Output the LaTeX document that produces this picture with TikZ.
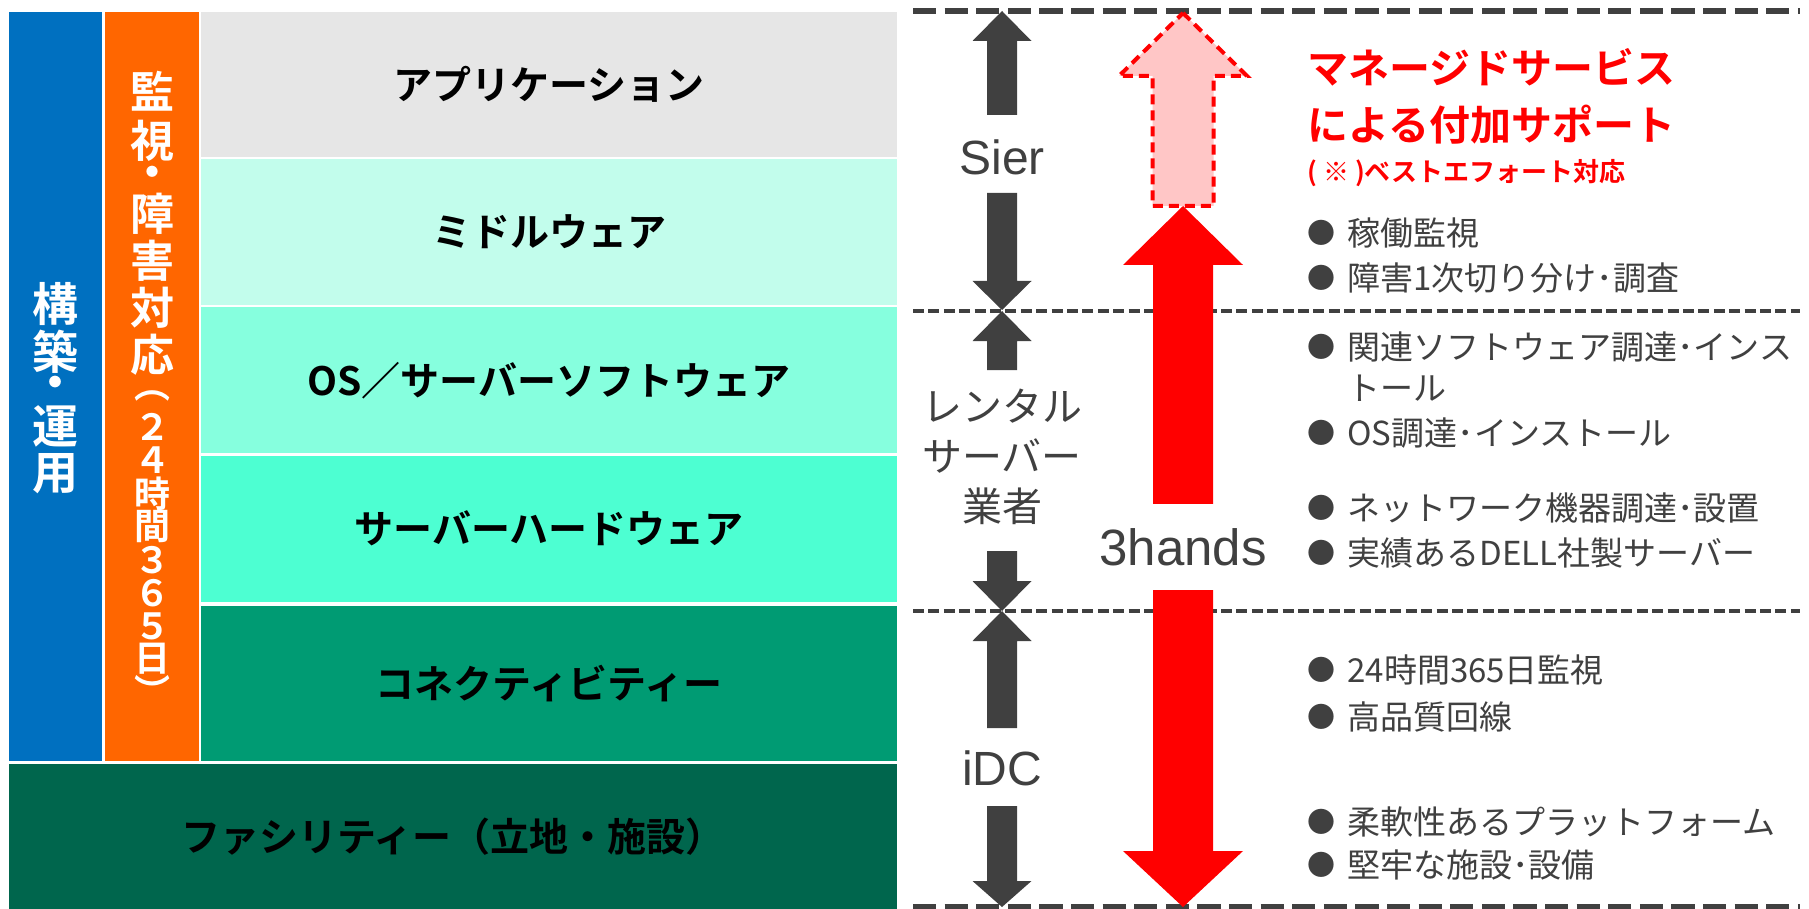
\documentclass[tikz,border=0pt]{standalone}
\usepackage{fontspec}
\setmainfont{Noto Sans CJK JP}[BoldFont={Noto Sans CJK JP Bold}]
\newfontfamily\arialf{Liberation Sans}
\definecolor{dg}{HTML}{404040}
\definecolor{bluec}{HTML}{0070C0}
\definecolor{orangec}{HTML}{FF6600}
\definecolor{appc}{HTML}{E6E6E6}
\definecolor{midc}{HTML}{C2FDEC}
\definecolor{osc}{HTML}{86FFDE}
\definecolor{hwc}{HTML}{4DFFD2}
\definecolor{connc}{HTML}{009B73}
\definecolor{facc}{HTML}{00664D}
\definecolor{pinkc}{HTML}{FFC6C6}
\newcommand\blkarrow[7]{% color, x, tip y, base y, end y, head half, shaft half
  \fill[#1] (#2,#3) -- ({#2+#6},#4) -- ({#2+#7},#4) -- ({#2+#7},#5) -- ({#2-#7},#5) -- ({#2-#7},#4) -- ({#2-#6},#4) -- cycle;}
% one vertically centred glyph per line: its centre sits on the baseline
\newcommand\cl[1]{\setbox0=\hbox{#1}\hbox to 24pt{\hss\raise\dimexpr(\dp0-\ht0)/2\relax\box0\hss}}
\newcommand\vsetup{\baselineskip=0pt\lineskip=0pt\lineskiplimit=-\maxdimen}
\newcommand\smf{\fontsize{18pt}{18pt}\selectfont}
\begin{document}
\begin{tikzpicture}[x=0.5pt,y=-0.5pt,
  box/.style={draw=white, line width=1.25pt, inner sep=0pt, text=black,
    font=\fontsize{19.5pt}{23pt}\selectfont\bfseries},
  vtext/.style={anchor=base, inner sep=0pt, text=white},
  glabel/.style={inner sep=0pt, text=dg, font=\arialf\fontsize{24pt}{24pt}\selectfont},
  redbig/.style={anchor=west, inner sep=0pt, text=red, text height=16.4pt, text depth=1pt,
    font=\fontsize{20.5pt}{24pt}\selectfont\bfseries},
  redsmall/.style={anchor=west, inner sep=0pt, text=red, text height=10.4pt, text depth=0.6pt,
    font=\fontsize{13pt}{15pt}\selectfont\bfseries},
  bul/.style={anchor=west, inner sep=0pt, text=dg, text height=13.2pt, text depth=0.85pt,
    font=\fontsize{16.5pt}{20pt}\selectfont},
  sepbig/.style={dg, line width=3.3pt, dash pattern=on 11.6pt off 4.2pt},
  sepsmall/.style={dg, line width=2pt, dash pattern=on 5.5pt off 2.2pt}
]
\useasboundingbox (0,0) rectangle (1809,909);
\fill[white] (0,0) rectangle (1809,909);
\newcommand\bu{\raisebox{1pt}{\fontsize{14pt}{14pt}\selectfont ●}\hspace{6pt}}

% left stack
\node[box, fill=bluec, minimum width=47.75pt, minimum height=375.75pt] (blue) at (55.75,386.75) {};
\node[box, fill=orangec, minimum width=48.25pt, minimum height=375.75pt] (orange) at (151.75,386.75) {};
\node[box, fill=appc, minimum width=349pt, minimum height=73.5pt] (app) at (549,84.5) {アプリケーション};
\node[box, fill=midc, minimum width=349pt, minimum height=74pt] (mid) at (549,232) {ミドルウェア};
\node[box, fill=osc, minimum width=349pt, minimum height=74.25pt] (os) at (549,380.25) {OS／サーバーソフトウェア};
\node[box, fill=hwc, minimum width=349pt, minimum height=74.25pt] (hw) at (549,528.75) {サーバーハードウェア};
\node[box, fill=connc, minimum width=349pt, minimum height=79.75pt] (conn) at (549,684) {コネクティビティー};
\node[box, fill=facc, minimum width=445pt, minimum height=73.75pt] (fac) at (453,836.25) {ファシリティー（立地・施設）};

\node[vtext, font=\fontsize{23pt}{23pt}\selectfont\bfseries] (bluetext) at (55.5,304)
  {\vtop{\vsetup\cl{構}\vskip24pt\cl{築}\vskip18pt\cl{・}\vskip19pt\cl{運}\vskip24pt\cl{用}}};
\node[vtext, font=\fontsize{22pt}{22pt}\selectfont\bfseries] (orangetext) at (152,91)
  {\vtop{\vsetup\cl{監}\vskip25pt\cl{視}\vskip18pt\cl{・}\vskip18.5pt\cl{障}\vskip23.5pt\cl{害}%
   \vskip23.5pt\cl{対}\vskip23.5pt\cl{応}\vskip20.5pt\cl{\smf ︵}\vskip15.5pt\cl{\smf ２}%
   \vskip16.5pt\cl{\smf ４}\vskip17pt\cl{\smf 時}\vskip16.5pt\cl{\smf 間}\vskip16.5pt\cl{\smf ３}%
   \vskip16.5pt\cl{\smf ６}\vskip16.5pt\cl{\smf ５}\vskip16.5pt\cl{\smf 日}\vskip15.5pt\cl{\smf ︶}}};

% separators
\draw[sepbig] (913,11) -- (1800,11);
\draw[sepsmall] (913,310.5) -- (1800,310.5);
\draw[sepsmall] (913,610.5) -- (1800,610.5);
\draw[sepbig] (913,907) -- (1800,907);

% gray arrows
\blkarrow{dg}{1002}{11}{41}{115}{29.5}{15}
\blkarrow{dg}{1002}{310}{281}{193}{29.5}{15}
\blkarrow{dg}{1002}{311}{341}{370}{29.5}{15}
\blkarrow{dg}{1002}{611}{581}{551}{29.5}{15}
\blkarrow{dg}{1002}{611}{641}{728}{29.5}{15}
\blkarrow{dg}{1002}{907}{881}{806}{29.5}{15}
\node[glabel] (sier) at (1002,157) {Sier};
\node[inner sep=0pt, text=dg, align=center, font=\fontsize{20pt}{25pt}\selectfont] (rental) at (1002,457) {レンタル\\サーバー\\業者};
\node[glabel] (idc) at (1002,768) {iDC};

% red arrows
\draw[red, line width=2pt, dash pattern=on 5pt off 3pt, fill=pinkc]
  (1183,13) -- (1247,76) -- (1213.5,76) -- (1213.5,206) -- (1152.5,206) -- (1152.5,76) -- (1119,76) -- cycle;
\fill[red] (1183,206) -- (1243,265) -- (1213,265) -- (1213,851) -- (1243,851) -- (1183,907)
  -- (1123,851) -- (1153,851) -- (1153,265) -- (1123,265) -- cycle;
\node[fill=white, inner xsep=2pt, minimum height=43pt, text=dg, font=\arialf\fontsize{25.5pt}{26pt}\selectfont] (hands) at (1183,547) {3hands};

% right texts
\node[redbig] (ms1) at (1307,68) {マネージドサービス};
\node[redbig] (ms2) at (1307,125) {による付加サポート};
\node[redsmall] (ms3) at (1307,172) {( ※ )ベストエフォート対応};

\node[bul] (t1) at (1307,233) {\bu 稼働監視};
\node[bul] (t2) at (1307,278) {\bu 障害1次切り分け･調査};
\node[bul] (t3) at (1307,347) {\bu 関連ソフトウェア調達･インス};
\node[bul] (t3b) at (1347,388) {トール};
\node[bul] (t4) at (1307,433) {\bu OS調達･インストール};
\node[bul] (t5) at (1307,508) {\bu ネットワーク機器調達･設置};
\node[bul] (t6) at (1307,553) {\bu 実績あるDELL社製サーバー};
\node[bul] (t7) at (1307,670) {\bu 24時間365日監視};
\node[bul] (t8) at (1307,717) {\bu 高品質回線};
\node[bul] (t9) at (1307,822) {\bu 柔軟性あるプラットフォーム};
\node[bul] (t10) at (1307,865) {\bu 堅牢な施設･設備};
\end{tikzpicture}
\end{document}
